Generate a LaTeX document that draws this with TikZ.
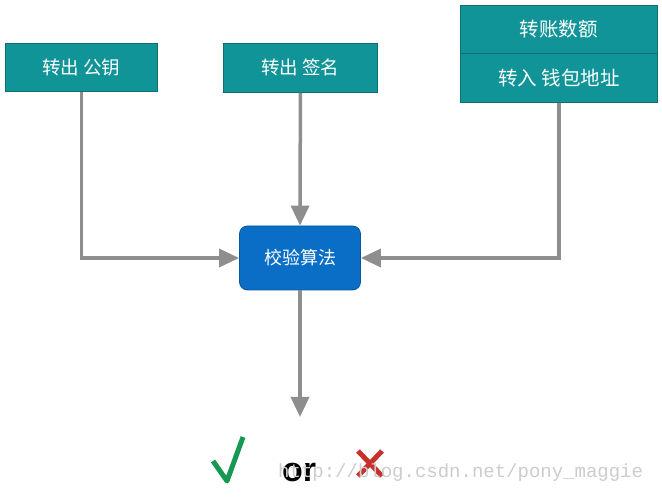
\documentclass[tikz,border=0pt]{standalone}
\usepackage{fontspec}
\newfontfamily\cjk{Noto Sans CJK SC}
\newfontfamily\orfont{Liberation Sans}
\newfontfamily\wmfont{Liberation Mono}
\usetikzlibrary{arrows.meta}
\definecolor{tealbox}{RGB}{16,148,152}
\definecolor{tealedge}{RGB}{14,112,116}
\definecolor{bluebox}{RGB}{10,110,198}
\definecolor{blueedge}{RGB}{8,86,160}
\definecolor{conn}{RGB}{142,142,142}
\definecolor{okgreen}{RGB}{22,152,82}
\definecolor{nored}{RGB}{200,48,44}
\tikzset{
  keybox/.style={draw=tealedge, line width=0.8pt, fill=tealbox, text=white,
    font=\cjk\fontsize{18.5}{21}\selectfont, inner sep=0pt, anchor=north west},
  algbox/.style={draw=blueedge, line width=0.8pt, fill=bluebox, text=white,
    rounded corners=8pt, font=\cjk\fontsize{18}{21}\selectfont, inner sep=0pt,
    minimum width=121pt, minimum height=64pt},
  conline/.style={draw=conn, line width=3.5pt, -{Triangle[width=18pt,length=20pt]}}
}
\begin{document}
\begin{tikzpicture}[x=1pt,y=-1pt]
\useasboundingbox (0,0) rectangle (662,502);
% top boxes
\node[keybox, minimum width=152pt, minimum height=48pt] (pk) at (5,43) {转出 公钥};
\node[keybox, minimum width=154pt, minimum height=49pt] (sig) at (223,43) {转出 签名};
\node[keybox, minimum width=197pt, minimum height=48pt, font=\cjk\fontsize{19.5}{22}\selectfont] (amt) at (460,5) {转账数额};
\node[keybox, minimum width=197pt, minimum height=49pt, font=\cjk\fontsize{19.5}{22}\selectfont] (addr) at (460,53) {转入 钱包地址};
\draw[tealedge, line width=0.8pt] (amt.north west) rectangle (addr.south east);
% algorithm box
\node[algbox] (alg) at (300,258) {校验算法};
% result
\coordinate (res) at (300,417);
% connectors
\draw[conline] (pk.south) |- (alg.west);
\draw[conline] (sig.south) -- (alg.north);
\draw[conline] (addr.south) |- (alg.east);
\draw[conline] (alg.south) -- (res);
% check mark
\draw[okgreen, line width=5pt, line join=round] (213,461) -- (227,481) -- (243,437);
% or
\node[font=\orfont\bfseries\fontsize{34}{36}\selectfont, anchor=base] (or) at (299,482) {or};
% cross
\draw[nored, line width=5pt] (358,451) -- (382,476) (382,451) -- (358,476);
% watermark
\node[font=\wmfont\fontsize{19}{20}\selectfont, text=black!20, anchor=base west, inner sep=0pt] (wm) at (278,478) {http://blog.csdn.net/pony\_maggie};
\end{tikzpicture}
\end{document}
